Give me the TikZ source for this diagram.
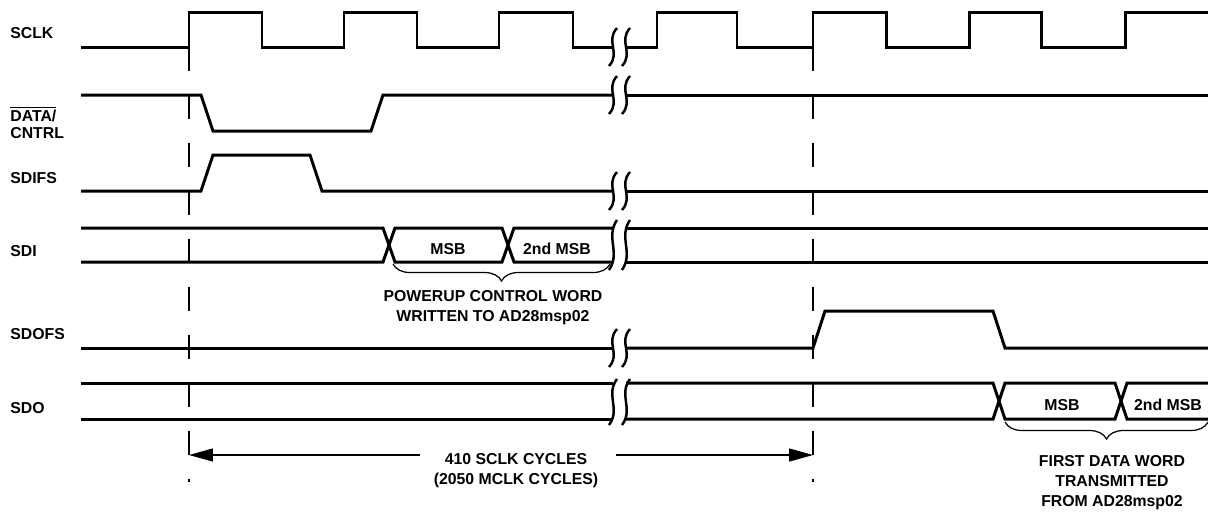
\documentclass[tikz,border=0pt]{standalone}
\usepackage{fontspec}
\setmainfont{Liberation Sans}
\usepackage{tikz}
\usetikzlibrary{arrows.meta,positioning,decorations.pathreplacing}

% pair of break marks: x, y centre, half height
\newcommand{\sigbreak}[3]{%
  \foreach \dx in {0,13}{
    \draw[brk] ({#1+\dx+4},{#2-#3}) .. controls ({#1+\dx-8},{#2-#3*0.3}) and ({#1+\dx+8},{#2+#3*0.3}) .. ({#1+\dx-4},{#2+#3});
  }}

\begin{document}
\begin{tikzpicture}[
    x=0.02cm, y=-0.02cm,
    sig/.style={line width=1.7pt, line join=miter},
    brk/.style={line width=1.4pt},
    guide/.style={line width=0.6pt, dash pattern=on 0.48cm off 0.48cm},
    lbl/.style={font=\fontsize{9}{11.4}\selectfont\bfseries, inner sep=0pt},
    wordbrace/.style={decorate, decoration={brace, mirror, amplitude=0.34cm}, line width=0.7pt},
    dimarrow/.style={line width=0.6pt, -{Triangle[length=13.6pt,width=7.4pt]}}
]
\useasboundingbox (0,0) rectangle (1208,512);

% signal names
\node[lbl, anchor=west] (sclk) at (10,33) {SCLK};
\node[lbl, anchor=west] (datl) at (10,114) {$\overline{\hbox{DATA/}}$};
\node[lbl, anchor=west] (cntl) at (10,133) {CNTRL};
\node[lbl, anchor=west] (sdifs) at (10,178) {SDIFS};
\node[lbl, anchor=west] (sdi) at (10,251) {SDI};
\node[lbl, anchor=west] (sdofs) at (10,334) {SDOFS};
\node[lbl, anchor=west] (sdo) at (10,408) {SDO};

% guides
\draw[guide] (189,47) -- (189,482);
\draw[guide] (813,47) -- (813,482);

% SCLK
\draw[sig] (81,47) -- (189,47) -- (189,12) -- (262,12) -- (262,47) -- (344,47) -- (344,12) -- (417,12) -- (417,47)
  -- (499,47) -- (499,12) -- (573,12) -- (573,47) -- (613,47);
\draw[sig] (626,47) -- (657,47) -- (657,12) -- (737,12) -- (737,47) -- (813,47) -- (813,12) -- (886,12) -- (886,47)
  -- (969,47) -- (969,12) -- (1041,12) -- (1041,47) -- (1125,47) -- (1125,12) -- (1208,12);
\sigbreak{613}{47}{19}

% DATA/CNTRL
\draw[sig] (81,95) -- (201,95) -- (213,131) -- (371,131) -- (383,95) -- (613,95);
\draw[sig] (626,95) -- (1208,95);
\sigbreak{613}{95}{19}

% SDIFS
\draw[sig] (81,191) -- (201,191) -- (213,155) -- (310,155) -- (322,191) -- (613,191);
\draw[sig] (626,191) -- (1208,191);
\sigbreak{613}{191}{19}

% SDI
\draw[sig] (81,228) -- (383,228) -- (395,262) -- (502,262) -- (514,228) -- (613,228);
\draw[sig] (81,262) -- (383,262) -- (395,228) -- (502,228) -- (514,262) -- (613,262);
\draw[sig] (626,228) -- (1208,228);
\draw[sig] (626,262) -- (1208,262);
\sigbreak{613}{245}{25}
\node[lbl] (msbi) at (448,249) {MSB};
\node[lbl] (msbii) at (557,249) {2nd MSB};

% SDOFS
\draw[sig] (81,348) -- (613,348);
\draw[sig] (626,348) -- (813,348) -- (825,311) -- (993,311) -- (1005,348) -- (1208,348);
\sigbreak{613}{348}{19}

% SDO
\draw[sig] (81,383) -- (613,383);
\draw[sig] (81,419) -- (613,419);
\draw[sig] (626,383) -- (993,383) -- (1005,419) -- (1115,419) -- (1127,383) -- (1208,383);
\draw[sig] (626,419) -- (993,419) -- (1005,383) -- (1115,383) -- (1127,419) -- (1208,419);
\sigbreak{613}{402}{23}
\node[lbl] (msbo) at (1062,405) {MSB};
\node[lbl] (msboii) at (1168,405) {2nd MSB};

% braces
\draw[wordbrace] (393,264) -- (610,264);
\node[lbl, align=center] (wrword) at (493,308) {POWERUP CONTROL WORD\\WRITTEN TO AD28msp02};
\draw[wordbrace] (1005,422) -- (1208,422);
\node[lbl, align=center] (rdword) at (1112,483) {FIRST DATA WORD\\TRANSMITTED\\FROM AD28msp02};

% cycle count
\coordinate (tA) at (189,455);
\coordinate (tB) at (813,455);
\coordinate (gapL) at (420,455);
\coordinate (gapR) at (616,455);
\node[lbl, align=center] (cyc) at (516,471) {410 SCLK CYCLES\\(2050 MCLK CYCLES)};
\draw[dimarrow] (gapL) -- (tA);
\draw[dimarrow] (gapR) -- (tB);
\end{tikzpicture}
\end{document}
